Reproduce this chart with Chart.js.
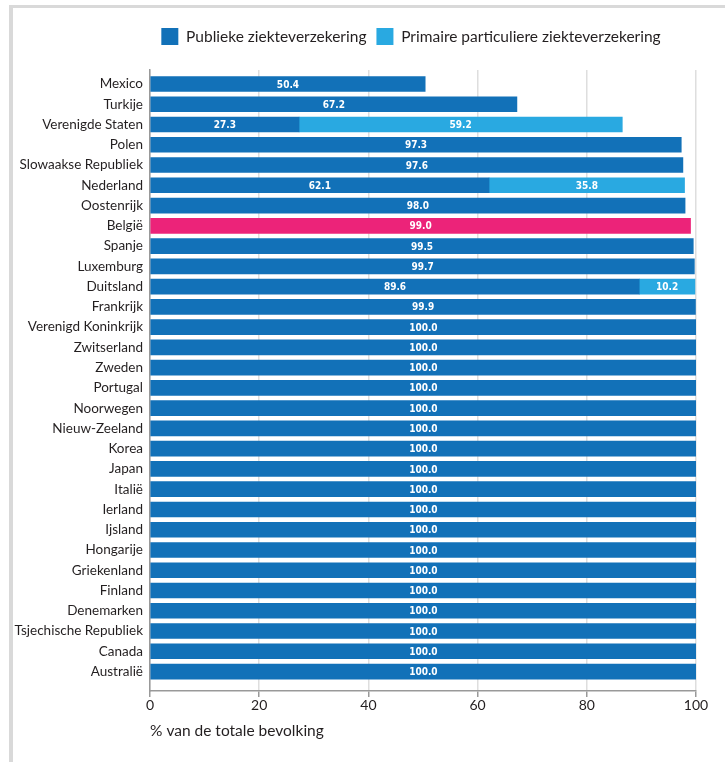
<!DOCTYPE html>
<html>
<head>
<meta charset="utf-8">
<script src="https://cdn.jsdelivr.net/npm/chart.js@4.4.1/dist/chart.umd.min.js"></script>
<style>
  html, body { margin: 0; padding: 0; background: #fff; }
  #wrap { position: relative; width: 725px; height: 762px; overflow: hidden; }
  #wrap canvas { position: absolute; left: 0; top: 0; }
  #frame { position: absolute; left: 9px; top: 5px; right: 0; bottom: 0;
           border-top: 3px solid #d9d9d9; border-left: 4px solid #d9d9d9; pointer-events: none; }
</style>
</head>
<body>
<div id="wrap">
  <canvas id="chart" width="725" height="762"></canvas>
  <div id="frame"></div>
</div>
<script>
// Countries, top to bottom
const categories = [
  'Mexico', 'Turkije', 'Verenigde Staten', 'Polen', 'Slowaakse Republiek', 'Nederland',
  'Oostenrijk', 'België', 'Spanje', 'Luxemburg', 'Duitsland', 'Frankrijk',
  'Verenigd Koninkrijk', 'Zwitserland', 'Zweden', 'Portugal', 'Noorwegen', 'Nieuw-Zeeland',
  'Korea', 'Japan', 'Italië', 'Ierland', 'Ijsland', 'Hongarije', 'Griekenland', 'Finland',
  'Denemarken', 'Tsjechische Republiek', 'Canada', 'Australië'
];

// % of population covered by public health insurance
const publicCover = [
  50.4, 67.2, 27.3, 97.3, 97.6, 62.1, 98.0, 99.0, 99.5, 99.7, 89.6, 99.9,
  100.0, 100.0, 100.0, 100.0, 100.0, 100.0,
  100.0, 100.0, 100.0, 100.0, 100.0, 100.0, 100.0, 100.0,
  100.0, 100.0, 100.0, 100.0
];

// % of population covered by primary private health insurance
const privateCover = [
  null, null, 59.2, null, null, 35.8, null, null, null, null, 10.2, null,
  null, null, null, null, null, null,
  null, null, null, null, null, null, null, null,
  null, null, null, null
];

const seriesNames = ['Publieke ziekteverzekering', 'Primaire particuliere ziekteverzekering'];
const highlighted = 'België';
const xTicks = [0, 20, 40, 60, 80, 100];
const axisTitle = '% van de totale bevolking';

const COL_PUBLIC = '#1271b8';
const COL_PRIVATE = '#29a9e1';
const COL_HIGHLIGHT = '#ec2379';
const TEXT = '#231f20';
const FONT = 'Lato, "Open Sans", sans-serif';

// White value labels centred in each bar segment
const valueLabels = {
  id: 'valueLabels',
  afterDatasetsDraw(chart) {
    const ctx = chart.ctx;
    ctx.save();
    ctx.font = 'bold 10px "Liberation Sans Narrow", "DejaVu Sans Condensed", "Arial Narrow", sans-serif';
    ctx.fillStyle = '#ffffff';
    ctx.textAlign = 'center';
    ctx.textBaseline = 'middle';
    chart.data.datasets.forEach((ds, di) => {
      const meta = chart.getDatasetMeta(di);
      meta.data.forEach((bar, i) => {
        const v = ds.data[i].x;
        if (v == null) return;
        const p = bar.getProps(['x', 'y', 'base'], true);
        ctx.fillText(v.toFixed(1), (p.x + p.base) / 2, p.y + 1);
      });
    });
    ctx.restore();
  }
};

// Legend: extra room below it, and centred over the bars rather than the whole canvas
const legendPlacement = {
  id: 'legendPlacement',
  beforeInit(chart) {
    const fit = chart.legend.fit;
    chart.legend.fit = function () {
      fit.call(this);
      this.height += 15;
    };
  },
  afterLayout(chart) {
    chart.legend.left += 126;
  }
};

const rows = categories.map((c, i) => i);

new Chart(document.getElementById('chart'), {
  type: 'bar',
  data: {
    datasets: [
      {
        label: seriesNames[0],
        data: rows.map(i => ({ y: i, x: publicCover[i] })),
        backgroundColor: categories.map(c => c === highlighted ? COL_HIGHLIGHT : COL_PUBLIC),
        barThickness: 15,
        borderWidth: 0
      },
      {
        label: seriesNames[1],
        data: rows.map(i => ({ y: i, x: privateCover[i] })),
        backgroundColor: COL_PRIVATE,
        barThickness: 15,
        borderWidth: 0
      }
    ]
  },
  options: {
    indexAxis: 'y',
    responsive: false,
    animation: false,
    devicePixelRatio: 1,
    layout: { padding: { left: 0, right: 29, top: 18, bottom: 0 } },
    plugins: {
      tooltip: { enabled: false },
      legend: {
        position: 'top',
        align: 'center',
        labels: {
          boxWidth: 17,
          boxHeight: 17,
          padding: 10,
          color: TEXT,
          font: { family: FONT, size: 15.5 }
        }
      }
    },
    scales: {
      x: {
        type: 'linear',
        stacked: true,
        min: 0,
        max: 100,
        afterBuildTicks: s => { s.ticks = xTicks.map(v => ({ value: v })); },
        afterFit: s => { s.height = 71; },
        ticks: { color: TEXT, font: { family: FONT, size: 14 }, padding: 0, maxRotation: 0 },
        grid: { color: '#dedede', lineWidth: 1.5, tickColor: '#999999', tickLength: 6 },
        border: { color: '#999999', width: 1.5 },
        title: {
          display: true,
          text: axisTitle,
          align: 'start',
          color: TEXT,
          font: { family: FONT, size: 15.5 },
          padding: { top: 0, bottom: 22 }
        }
      },
      y: {
        type: 'linear',
        stacked: true,
        reverse: true,
        offset: false,
        min: -0.69,
        max: 29.96,
        afterBuildTicks: s => { s.ticks = rows.map(i => ({ value: i })); },
        afterFit: s => { s.width = 150; },
        ticks: {
          autoSkip: false,
          color: TEXT,
          font: { family: FONT, size: 13.5 },
          padding: 7,
          callback: v => categories[v]
        },
        grid: { display: false, drawTicks: false },
        border: { color: '#999999', width: 1.5 }
      }
    }
  },
  plugins: [valueLabels, legendPlacement]
});
</script>
</body>
</html>
